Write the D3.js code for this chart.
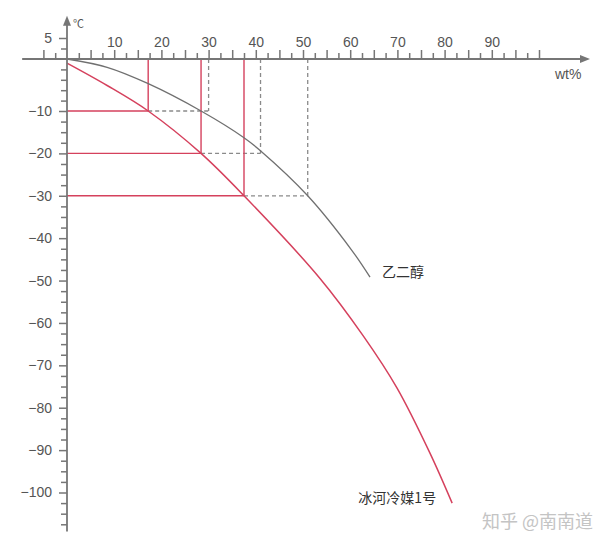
<!DOCTYPE html>
<html>
<head>
<meta charset="utf-8">
<script src="https://cdn.jsdelivr.net/npm/d3@7"></script>
<style>
  html, body { margin: 0; padding: 0; background: #fff; }
  svg { display: block; }
  .num { font-family: "Liberation Sans", Arial, Helvetica, sans-serif; }
  .cjk { font-family: "Noto Sans CJK SC", "Noto Sans", sans-serif; }
</style>
</head>
<body>
<svg id="chart" width="613" height="548"></svg>
<script>
// ---- data ----
const xLabelTicks = [10, 20, 30, 40, 50, 60, 70, 80, 90];
const xTallTicks = [-5, 5, 15, 25, 35, 45, 55, 65, 75, 85, 95, 100];
const xShortTicks = [-2.5, 2.5, 7.5, 12.5, 17.5, 22.5, 27.5, 32.5, 37.5, 42.5, 47.5, 52.5, 57.5, 62.5, 67.5, 72.5, 77.5, 82.5, 87.5, 92.5, 97.5];
const yLabelTicks = [5, -10, -20, -30, -40, -50, -60, -70, -80, -90, -100];
const yShortTicks = [2.5, -2, -4, -6, -8, -12.5, -15, -17.5, -22.5, -25, -27.5, -32.5, -35, -37.5, -42.5, -45, -47.5, -52.5, -55, -57.5, -62.5, -65, -67.5, -72.5, -75, -77.5, -82.5, -85, -87.5, -92.5, -95, -97.5, -102.5, -105, -107.5];

// ethylene glycol (乙二醇) freezing curve
const glycolX = [0, 8.5, 17.1, 28.4, 37.5, 40.8, 51, 60.3, 64.2];
const glycolY = [0, -1.6, -4.7, -10, -16.3, -19.2, -30, -42.8, -49.2];
// 冰河冷媒1号 curve
const coolantX = [0, 8.5, 17.2, 28.4, 37.5, 53.6, 62.8, 69.9, 76.9, 81.6];
const coolantY = [-0.8, -5.1, -10, -20, -30, -49.5, -63.1, -75.3, -90.7, -102.5];

// guide lines
const levels = [-10, -20, -30];
const coolantCrossX = [17.2, 28.4, 37.5];
const glycolCrossX = [30, 41, 51];

// axis extents (data units)
const xAxisExtent = [-9.5, 110.8];
const yAxisExtent = [-109.2, 10.3];

// ---- scales ----
const x = d3.scaleLinear().domain([0, 100]).range([67, 539]);
const y = d3.scaleLinear().domain([5, 0, -10, -100]).range([38, 59, 111, 492.5]);

const svg = d3.select("#chart");
const axisColor = "#767676";
const red = "#d5415d";

// ---- guide lines ----
const g = svg.append("g");
levels.forEach((lv, i) => {
  g.append("line").attr("x1", x(coolantCrossX[i])).attr("x2", x(glycolCrossX[i]))
    .attr("y1", y(lv)).attr("y2", y(lv))
    .attr("stroke", "#8a8a8a").attr("stroke-width", 1.3).attr("stroke-dasharray", "4,3");
  g.append("line").attr("x1", x(glycolCrossX[i])).attr("x2", x(glycolCrossX[i]))
    .attr("y1", y(0)).attr("y2", y(lv))
    .attr("stroke", "#8a8a8a").attr("stroke-width", 1.3).attr("stroke-dasharray", "4,3");
  g.append("line").attr("x1", x(0)).attr("x2", x(coolantCrossX[i]))
    .attr("y1", y(lv)).attr("y2", y(lv))
    .attr("stroke", red).attr("stroke-width", 1.4);
  g.append("line").attr("x1", x(coolantCrossX[i])).attr("x2", x(coolantCrossX[i]))
    .attr("y1", y(0)).attr("y2", y(lv))
    .attr("stroke", red).attr("stroke-width", 1.4);
});

// ---- curves ----
const line = d3.line().x(d => x(d[0])).y(d => y(d[1])).curve(d3.curveCatmullRom.alpha(0.5));
svg.append("path").datum(glycolX.map((v, i) => [v, glycolY[i]]))
  .attr("d", line).attr("fill", "none").attr("stroke", "#707070").attr("stroke-width", 1.3);
svg.append("path").datum(coolantX.map((v, i) => [v, coolantY[i]]))
  .attr("d", line).attr("fill", "none").attr("stroke", red).attr("stroke-width", 1.5);

// ---- axes lines ----
svg.append("line").attr("x1", x(xAxisExtent[0])).attr("x2", x(xAxisExtent[1]) - 8)
  .attr("y1", y(0)).attr("y2", y(0)).attr("stroke", axisColor).attr("stroke-width", 1.8);
svg.append("path")
  .attr("d", `M${x(xAxisExtent[1])},${y(0)} L${x(xAxisExtent[1]) - 10},${y(0) - 4} L${x(xAxisExtent[1]) - 10},${y(0) + 4} Z`)
  .attr("fill", axisColor);
svg.append("line").attr("x1", x(0)).attr("x2", x(0))
  .attr("y1", y(yAxisExtent[0])).attr("y2", y(yAxisExtent[1]) + 8)
  .attr("stroke", axisColor).attr("stroke-width", 1.8);
svg.append("path")
  .attr("d", `M${x(0)},${y(yAxisExtent[1])} L${x(0) - 4},${y(yAxisExtent[1]) + 10} L${x(0) + 4},${y(yAxisExtent[1]) + 10} Z`)
  .attr("fill", axisColor);

// ---- ticks ----
function styleAxis(sel) {
  sel.select(".domain").remove();
  sel.selectAll("line").attr("stroke", axisColor).attr("stroke-width", 1.5);
  sel.selectAll("text").attr("fill", "#555").attr("font-size", 14)
    .attr("class", "num");
}
const xTop = svg.append("g").attr("transform", `translate(0,${y(0)})`);
xTop.append("g").call(d3.axisTop(x).tickValues(xLabelTicks).tickSize(9).tickPadding(3).tickFormat(d3.format("d"))).call(styleAxis);
xTop.append("g").call(d3.axisTop(x).tickValues(xTallTicks).tickSize(9).tickFormat("")).call(styleAxis);
xTop.append("g").call(d3.axisTop(x).tickValues(xShortTicks).tickSize(6).tickFormat("")).call(styleAxis);

const yLeft = svg.append("g").attr("transform", `translate(${x(0)},0)`);
yLeft.append("g").call(d3.axisLeft(y).tickValues(yLabelTicks).tickSize(8).tickPadding(7).tickFormat(d3.format("d"))).call(styleAxis);
yLeft.append("g").call(d3.axisLeft(y).tickValues(yShortTicks).tickSize(6).tickFormat("")).call(styleAxis);

// ---- axis titles ----
svg.append("text").attr("x", x(0) + 6).attr("y", y(yAxisExtent[1]) + 12)
  .attr("class", "cjk").attr("font-size", 11).attr("fill", "#555").text("℃");
svg.append("text").attr("x", 555).attr("y", 79)
  .attr("class", "num").attr("font-size", 14).attr("fill", "#555").text("wt%");

// ---- series labels ----
const gEnd = [glycolX[glycolX.length - 1], glycolY[glycolY.length - 1]];
svg.append("text").attr("x", x(gEnd[0]) + 12).attr("y", y(gEnd[1]) - 5).attr("dy", "0.35em")
  .attr("class", "cjk").attr("font-size", 14).attr("fill", "#333").text("乙二醇");
const cEnd = [coolantX[coolantX.length - 1], coolantY[coolantY.length - 1]];
svg.append("text").attr("x", x(cEnd[0]) - 16).attr("y", y(cEnd[1]) - 5).attr("dy", "0.35em")
  .attr("text-anchor", "end")
  .attr("class", "cjk").attr("font-size", 14).attr("fill", "#333").text("冰河冷媒1号");

// ---- watermark ----
svg.append("text").attr("x", 482).attr("y", 528)
  .attr("class", "cjk").attr("font-size", 18).attr("fill", "#c4c4c4").text("知乎 @南南道");
</script>
</body>
</html>
